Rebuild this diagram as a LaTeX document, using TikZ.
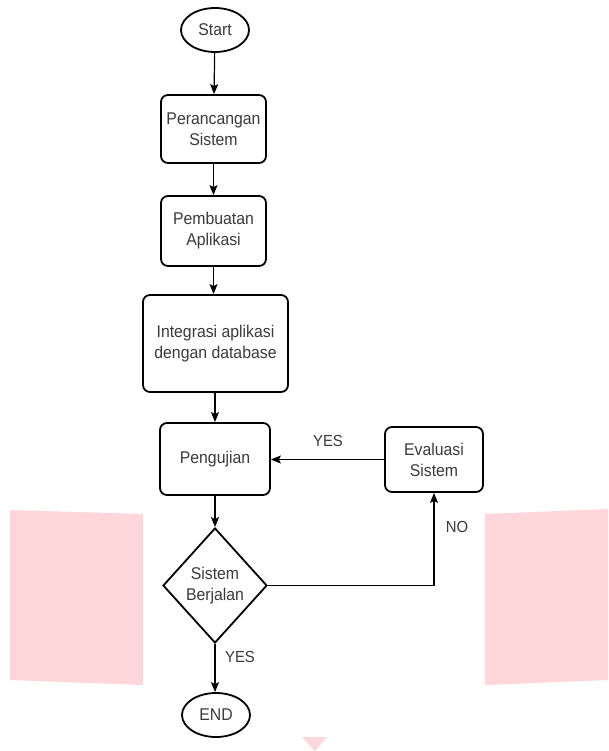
\documentclass[tikz,border=0pt]{standalone}
\usepackage{fontspec}
\setmainfont[FakeStretch=0.93]{Liberation Sans}
\usetikzlibrary{shapes.geometric,arrows.meta}
\definecolor{txt}{HTML}{3A3A3A}
\definecolor{wm}{HTML}{FFD6D9}
\tikzset{
  every node/.style={font=\fontsize{17}{21}\selectfont, text=txt, align=center, inner sep=0pt},
  procbox/.style={draw=black, line width=1.8pt, rounded corners=7pt},
  term/.style={draw=black, line width=1.8pt, ellipse, minimum width=68pt, minimum height=44pt},
  decision/.style={draw=black, line width=1.8pt, diamond, minimum width=104pt, minimum height=115pt, aspect=0.9},
  flow/.style={line width=1.2pt, -{Stealth[length=10pt,width=8pt,inset=2pt]}},
  lbl/.style={font=\fontsize{16}{19}\selectfont}
}
\begin{document}
\begin{tikzpicture}[x=1pt,y=-1pt]
\useasboundingbox (0,0) rectangle (608,751);
% watermark shapes
\fill[wm] (10,510) -- (143,514) -- (143,685) -- (10,680) -- cycle;
\fill[wm] (485,514) -- (608,509) -- (608,680) -- (485,685) -- cycle;
\fill[wm] (302,737) -- (327,737) -- (315,751) -- cycle;
% nodes
\node[term] (start) at (215,30) {Start};
\node[procbox, minimum width=105pt, minimum height=68pt] (peranc) at (213.5,129) {Perancangan\\Sistem};
\node[procbox, minimum width=105pt, minimum height=70pt] (pembu) at (213.5,231) {Pembuatan\\Aplikasi};
\node[procbox, minimum width=145pt, minimum height=97pt] (integ) at (215.5,343.5) {Integrasi aplikasi\\dengan database};
\node[procbox, minimum width=110pt, minimum height=72pt] (uji) at (215,459) {Pengujian};
\node[procbox, minimum width=98pt, minimum height=65pt] (eval) at (434,459.5) {Evaluasi\\Sistem};
\node[decision] (dec) at (215,585.5) {Sistem\\Berjalan};
\node[term] (end) at (216,715) {END};
% connectors
\draw[flow] (start) -- (peranc);
\draw[flow] (peranc) -- (pembu);
\draw[flow] (pembu.south) -- (pembu.south |- integ.north);
\draw[flow] (integ.south -| uji.north) -- (uji.north);
\draw[flow] (uji) -- (dec);
\draw[flow] (dec.south) -- (dec.south |- end.north);
\draw[flow] (eval.west) -- (uji.east |- eval.west);
\draw[flow] (dec.east) -| (eval.south);
% labels
\node[lbl] (yes1) at (328,441) {YES};
\node[lbl] (no1) at (457,527) {NO};
\node[lbl] (yes2) at (240,657) {YES};
\end{tikzpicture}
\end{document}
